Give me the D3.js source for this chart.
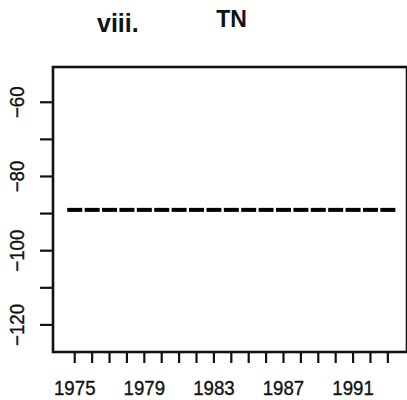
<!DOCTYPE html>
<html>
<head>
<meta charset="utf-8">
<script src="https://cdn.jsdelivr.net/npm/d3@7"></script>
<style>
  html, body { margin: 0; padding: 0; background: #fff; }
  svg { display: block; }
</style>
</head>
<body>
<svg id="chart" width="407" height="400"></svg>
<script>
// ---- data ----
const years = d3.range(1975, 1994);                // 1975 ... 1993
const values = [-89, -89, -89, -89, -89, -89, -89, -89, -89, -89,
                -89, -89, -89, -89, -89, -89, -89, -89, -89];
const xTickLabels = [1975, 1979, 1983, 1987, 1991];
const yTickValues = [-60, -70, -80, -90, -100, -110, -120];
const yTickLabels = [-60, -80, -100, -120];
const panelLabel = "viii.";
const title = "TN";

(function () {
// ---- layout ----
const svg = d3.select("#chart");
const mLeft = 53, mRight = 407, mTop = 67, mBottom = 352;

const x = d3.scaleLinear().domain([1973.75, 1994.1]).range([mLeft, mRight]);
const y = d3.scaleLinear().domain([-127.3, -50.5]).range([mBottom, mTop]);

const font = "'Liberation Sans', Arial, Helvetica, sans-serif";

// titles
svg.append("text").attr("x", 97).attr("y", 32)
  .attr("font-family", font).attr("font-weight", "bold").attr("font-size", 25)
  .attr("fill", "#111").text(panelLabel);
svg.append("text").attr("x", 231.5).attr("y", 26.5).attr("text-anchor", "middle")
  .attr("font-family", font).attr("font-weight", "bold").attr("font-size", 23)
  .attr("fill", "#111").text(title);

// x ticks
const xg = svg.append("g");
xg.selectAll("line").data(years).join("line")
  .attr("x1", d => x(d)).attr("x2", d => x(d))
  .attr("y1", mBottom).attr("y2", mBottom + 11)
  .attr("stroke", "#111").attr("stroke-width", 2.2);
xg.selectAll("text").data(xTickLabels).join("text")
  .attr("transform", d => `translate(${x(d)},395) scale(0.89,1)`)
  .attr("text-anchor", "middle")
  .attr("font-family", font).attr("font-size", 21)
  .attr("fill", "#111").attr("stroke", "#111").attr("stroke-width", 0.35)
  .text(d => d);

// y ticks
const yg = svg.append("g");
yg.selectAll("line").data(yTickValues).join("line")
  .attr("x1", mLeft - 13).attr("x2", mLeft)
  .attr("y1", d => y(d)).attr("y2", d => y(d))
  .attr("stroke", "#111").attr("stroke-width", 2.2);
yg.selectAll("text").data(yTickLabels).join("text")
  .attr("transform", d => `translate(23.5,${y(d)}) rotate(-90) scale(0.89,1)`)
  .attr("text-anchor", "middle")
  .attr("font-family", font).attr("font-size", 21)
  .attr("fill", "#111").attr("stroke", "#111").attr("stroke-width", 0.35)
  .text(d => String(d).replace("-", "\u2212"));

// frame
svg.append("rect")
  .attr("x", mLeft).attr("y", mTop)
  .attr("width", mRight - mLeft).attr("height", mBottom - mTop)
  .attr("fill", "none").attr("stroke", "#111").attr("stroke-width", 2.6);

// dashed series: one dash per year
const halfW = 7.5 / (x(1976) - x(1975)); // half dash in years
svg.append("g").selectAll("line").data(years.map((yr, i) => ({yr, v: values[i]}))).join("line")
  .attr("x1", d => x(d.yr - halfW)).attr("x2", d => x(d.yr + halfW))
  .attr("y1", d => y(d.v)).attr("y2", d => y(d.v))
  .attr("stroke", "#000").attr("stroke-width", 4);
})();
</script>
</body>
</html>
